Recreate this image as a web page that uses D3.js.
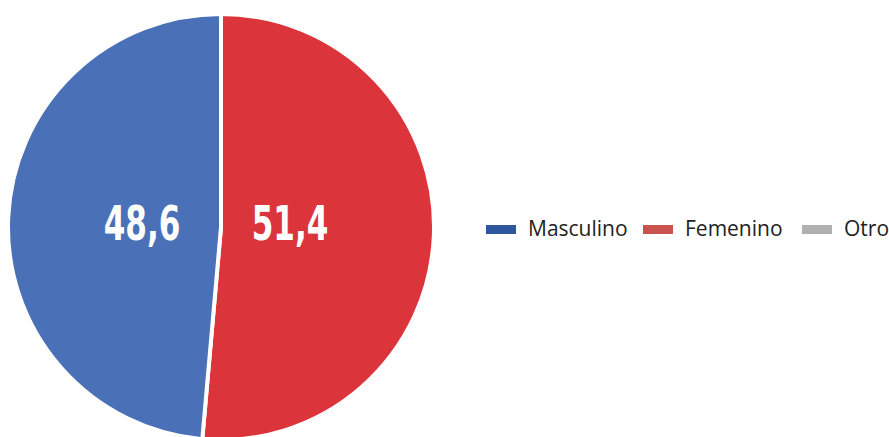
<!DOCTYPE html>
<html><head><meta charset="utf-8">
<script src="https://cdn.jsdelivr.net/npm/d3@7"></script>
<style>body{margin:0;background:#fff}svg{display:block}</style>
</head><body>
<svg id="c" width="889" height="437"></svg>
<script>
const categories = ["Femenino", "Masculino", "Otro"];
const values = [51.4, 48.6, 0];
const labels = ["51,4", "48,6", ""];
const legendOrder = ["Masculino", "Femenino", "Otro"];

const sliceColors = {Femenino: "#DC343B", Masculino: "#4A70B7", Otro: "#AAAAAA"};
const legendColors = {Masculino: "#2F559F", Femenino: "#C9534F", Otro: "#B0B0B0"};

const svg = d3.select("#c");
const cx = 221, cy = 227, r = 213;
const data = categories.map((c, i) => ({cat: c, v: values[i], label: labels[i]}));
const pie = d3.pie().sort(null).value(d => d.v);
const arc = d3.arc().innerRadius(0).outerRadius(r);
const g = svg.append("g").attr("transform", `translate(${cx},${cy})`);
const arcs = pie(data);
g.selectAll("path").data(arcs.filter(a => a.data.v > 0)).join("path")
  .attr("d", arc).attr("fill", d => sliceColors[d.data.cat])
  .attr("stroke", "#fff").attr("stroke-width", 4).attr("stroke-linejoin", "round");

g.selectAll("g.lbl").data(arcs.filter(a => a.data.v > 0)).join("g")
  .attr("class", "lbl")
  .attr("transform", d => `translate(${d.data.cat === "Femenino" ? 69 : -79},13) scale(0.72,1)`)
  .append("text")
  .attr("text-anchor", "middle")
  .attr("fill", "#fff")
  .attr("font-family", "'DejaVu Sans Condensed','DejaVu Sans',sans-serif")
  .attr("font-weight", "bold")
  .attr("font-size", 48)
  .text(d => d.data.label);

const legend = svg.append("g");
const lx = [486, 643, 802];
legendOrder.forEach((c, i) => {
  const it = legend.append("g").attr("transform", `translate(${lx[i]},229)`);
  it.append("rect").attr("x", 0).attr("y", -4).attr("width", 30).attr("height", 9).attr("fill", legendColors[c]);
  it.append("text").attr("x", 42).attr("y", 7).attr("font-family", "'Open Sans','Noto Sans',sans-serif")
    .attr("font-size", 21).attr("fill", "#222").text(c);
});
</script>
</body></html>
